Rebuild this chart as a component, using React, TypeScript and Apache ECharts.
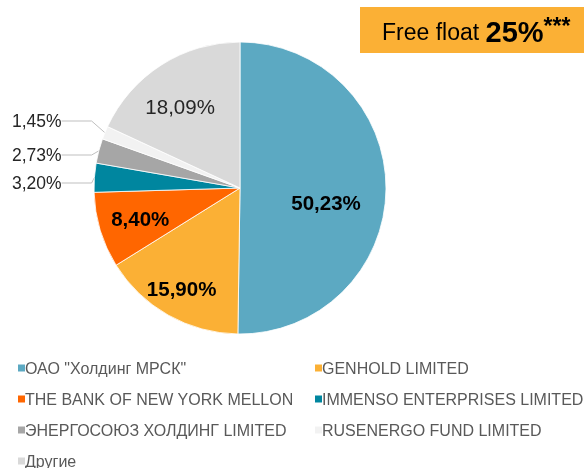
import React, { useEffect, useRef } from "react";
import * as echarts from "echarts";

const names = [
  'ОАО "Холдинг МРСК"',
  "GENHOLD LIMITED",
  "THE BANK OF NEW YORK MELLON",
  "IMMENSO ENTERPRISES LIMITED",
  "ЭНЕРГОСОЮЗ ХОЛДИНГ LIMITED",
  "RUSENERGO FUND LIMITED",
  "Другие",
];
const values = [50.23, 15.9, 8.4, 3.2, 2.73, 1.45, 18.09];
const colors = ["#5ca9c2", "#fbb035", "#ff6600", "#00869f", "#a6a6a6", "#f2f2f2", "#d9d9d9"];
const leftLegend = [names[0], names[2], names[4], names[6]];
const rightLegend = [names[1], names[3], names[5]];

const fmt = (v: number) => v.toFixed(2).replace(".", ",") + "%";

export default function App() {
  const ref = useRef<HTMLDivElement>(null);
  useEffect(() => {
    if (!ref.current) return;
    const chart = echarts.init(ref.current, null, { renderer: "svg" });
    const insideStyle: Record<number, any> = {
      0: { offset: [10, 14], fontWeight: "bold", color: "#000" },
      1: { offset: [-21, 34], fontWeight: "bold", color: "#000" },
      2: { offset: [-27, 9], fontWeight: "bold", color: "#000" },
      6: { offset: [-19, -17], fontWeight: "normal", color: "#262626" },
    };
    const outsideY: Record<number, number> = { 3: 183, 4: 155, 5: 121 };
    const data = names.map((n, i) => {
      const item: any = { name: n, value: values[i], itemStyle: { color: colors[i] } };
      if (insideStyle[i]) {
        item.label = { position: "inside", fontSize: 20.5, ...insideStyle[i] };
      } else {
        item.label = {
          position: "outside",
          alignTo: "edge",
          edgeDistance: 12,
          fontSize: 17.5,
          color: "#262626",
          overflow: "none",
        };
        item.labelLine = { show: true, length: 12, lineStyle: { color: "#bfbfbf", width: 1 } };
      }
      return item;
    });
    const legendBase = {
      orient: "vertical",
      top: 360,
      padding: 0,
      height: 110,
      itemWidth: 9,
      itemHeight: 9,
      itemGap: 15,
      icon: "rect",
      textStyle: { fontSize: 16, color: "#595959", fontFamily: "Liberation Sans", padding: [0, 0, 0, -6] },
    };
    chart.setOption({
      animation: false,
      textStyle: { fontFamily: "Liberation Sans" },
      legend: [
        { ...legendBase, left: 16, data: leftLegend },
        { ...legendBase, left: 313, data: rightLegend },
      ],
      series: [
        {
          type: "pie",
          center: [240, 188],
          radius: 146,
          startAngle: 90,
          clockwise: true,
          avoidLabelOverlap: true,
          data,
          label: { formatter: (p: any) => fmt(p.value) },
          labelLayout: (p: any) => (outsideY[p.dataIndex] !== undefined ? { y: outsideY[p.dataIndex] } : {}),
          itemStyle: { borderColor: "#ffffff", borderWidth: 0.8 },
        },
      ],
      graphic: [
        { type: "rect", shape: { x: 360, y: 7, width: 224, height: 46 }, style: { fill: "#fbb035" } },
        {
          type: "text",
          x: 382,
          y: 32,
          style: {
            text: "{a|Free float }{b|25%}{c|***}",
            verticalAlign: "middle",
            rich: {
              a: { fontSize: 23, fontFamily: "Liberation Sans", fill: "#000" },
              b: { fontSize: 29, fontWeight: "bold", fontFamily: "Liberation Sans", fill: "#000" },
              c: { fontSize: 23, fontWeight: "bold", fontFamily: "Liberation Sans", fill: "#000", padding: [0, 0, 12, 0] },
            },
          },
        },
      ],
    });
    return () => chart.dispose();
  }, []);
  return <div ref={ref} style={{ position: "fixed", left: 0, top: 0, width: 584, height: 468 }} />;
}
